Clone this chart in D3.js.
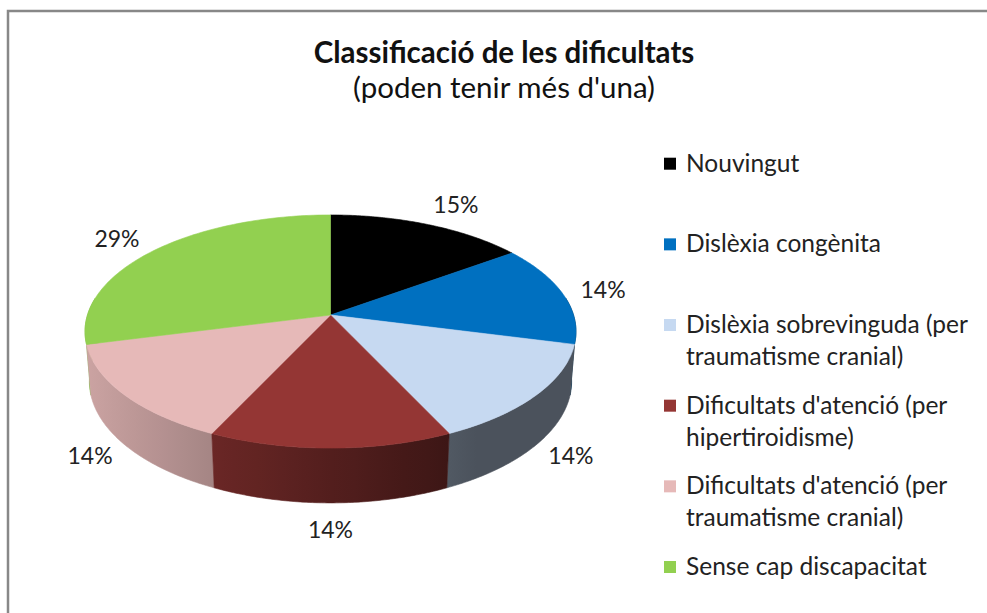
<!DOCTYPE html>
<html>
<head>
<meta charset="utf-8">
<script src="https://cdn.jsdelivr.net/npm/d3@7"></script>
<style>
  html, body { margin: 0; padding: 0; background: #fff; }
  svg { display: block; font-family: Lato, "Open Sans", "DejaVu Sans", sans-serif; }
</style>
</head>
<body>
<svg id="chart" width="987" height="613"></svg>
<script>
// ---- data ----
const categories = [
  "Nouvingut",
  "Dislèxia congènita",
  "Dislèxia sobrevinguda (per traumatisme cranial)",
  "Dificultats d'atenció (per hipertiroidisme)",
  "Dificultats d'atenció (per traumatisme cranial)",
  "Sense cap discapacitat"
];
const values = [15, 14, 14, 14, 14, 29];
const valueLabels = ["15%", "14%", "14%", "14%", "14%", "29%"];
const colors = ["#000000", "#0070C0", "#C6D9F1", "#943634", "#E6B9B8", "#92D050"];
const titleText = "Classificació de les dificultats";
const subtitleText = "(poden tenir més d'una)";

// ---- setup ----
const svg = d3.select("#chart");
const textColor = "#222222";
const defs = svg.append("defs");

// frame border (left and top visible)
svg.append("path")
  .attr("d", "M8,640 V11 H1010")
  .attr("fill", "none")
  .attr("stroke", "#888888")
  .attr("stroke-width", 2.5);

// title
svg.append("text")
  .attr("x", 504).attr("y", 63)
  .attr("text-anchor", "middle")
  .attr("font-size", 29.5).attr("font-weight", "bold")
  .attr("fill", "#111")
  .text(titleText);
svg.append("text")
  .attr("x", 504).attr("y", 98)
  .attr("text-anchor", "middle")
  .attr("font-size", 29.5)
  .attr("fill", "#111")
  .text(subtitleText);

// ---- 3D projection of the pie ----
const cam = {
  cx: 330.5, cy: 315,      // screen position of the pie apex
  f: 1514, D: 6.23,        // focal length and camera distance (in radius units)
  sinP: 0.47, cosP: 0.8826,// elevation
  h: 0.235                 // thickness
};
function proj(r, theta, Y) {
  const X = r * Math.sin(theta), Z = r * Math.cos(theta);
  const up = Y * cam.cosP + Z * cam.sinP;
  const fwd = cam.D + Z * cam.cosP - Y * cam.sinP;
  return [cam.cx + cam.f * X / fwd, cam.cy - cam.f * up / fwd];
}

const pie = d3.pie().sort(null).value(d => d.value);
const data = categories.map((c, i) => ({ name: c, value: values[i], label: valueLabels[i], color: colors[i] }));
const arcs = pie(data);

const line = d3.line();
const pieG = svg.append("g");

// lighting of the side wall as a function of the wall normal's x component
function shade(nx) {
  return Math.max(0.38, Math.min(0.9, 0.564 - 0.317 * nx));
}
const xL = proj(1, 3 * Math.PI / 2, 0)[0], xR = proj(1, Math.PI / 2, 0)[0];
arcs.forEach((a, i) => {
  const grad = defs.append("linearGradient")
    .attr("id", "side" + i)
    .attr("gradientUnits", "userSpaceOnUse")
    .attr("x1", xL).attr("x2", xR).attr("y1", 0).attr("y2", 0);
  const c = d3.rgb(a.data.color);
  d3.range(0, 1.0001, 0.05).forEach(o => {
    const nx = o * 2 - 1;
    const s = shade(nx);
    grad.append("stop").attr("offset", o)
      .attr("stop-color", d3.rgb(c.r * s, c.g * s, c.b * s).formatHex());
  });
});

// side walls (front half only), far to near
const lo = Math.PI / 2 - 0.15, hi = 3 * Math.PI / 2 + 0.15;
const walls = arcs.map((a, i) => {
  const t0 = Math.max(a.startAngle, lo), t1 = Math.min(a.endAngle, hi);
  return { i, t0, t1, z: Math.cos((t0 + t1) / 2) };
}).filter(w => w.t1 > w.t0).sort((a, b) => b.z - a.z);

pieG.selectAll("path.side").data(walls).enter().append("path")
  .attr("class", "side")
  .attr("d", w => {
    const n = 80, top = [], bot = [];
    for (let k = 0; k <= n; k++) {
      const t = w.t0 + (w.t1 - w.t0) * k / n;
      top.push(proj(1, t, 0));
      bot.push(proj(1, t, -cam.h));
    }
    return line(top.concat(bot.reverse())) + "Z";
  })
  .attr("fill", w => "url(#side" + w.i + ")")
  .attr("stroke", w => "url(#side" + w.i + ")")
  .attr("stroke-width", 0.6)
  .attr("stroke-linejoin", "round");

// top faces
pieG.selectAll("path.top").data(arcs).enter().append("path")
  .attr("class", "top")
  .attr("d", a => {
    const pts = [proj(0, 0, 0)];
    const n = 90;
    for (let k = 0; k <= n; k++) {
      const t = a.startAngle + (a.endAngle - a.startAngle) * k / n;
      pts.push(proj(1, t, 0));
    }
    return line(pts) + "Z";
  })
  .attr("fill", a => a.data.color)
  .attr("stroke", a => a.data.color)
  .attr("stroke-width", 0.6)
  .attr("stroke-linejoin", "round");

// ---- data labels ----
const ellCyTop = (proj(1, 0, 0)[1] + proj(1, Math.PI, 0)[1]) / 2;
const ellCyBot = (proj(1, 0, -cam.h)[1] + proj(1, Math.PI, -cam.h)[1]) / 2;
const lblG = svg.append("g");
arcs.forEach(a => {
  const tm = (a.startAngle + a.endAngle) / 2;
  const far = Math.cos(tm) >= 0;
  const Y = far ? 0 : -cam.h;
  const p = proj(1, tm, Y);
  let ux = p[0] - cam.cx, uy = p[1] - (far ? ellCyTop : ellCyBot);
  const L = Math.hypot(ux, uy); ux /= L; uy /= L;
  const t = lblG.append("text")
    .attr("font-size", 23)
    .attr("fill", textColor)
    .attr("text-anchor", "middle")
    .text(a.data.label);
  const hw = t.node().getComputedTextLength() / 2, hh = 9, g = 18;
  const x = p[0] + ux * (g + hw), y = p[1] + uy * (g + hh);
  t.attr("x", x).attr("y", y + 8);
});

// ---- legend ----
const legY = d3.scalePoint().domain(categories).range([171.7, 575]);
const legG = svg.append("g");
const maxW = 292;
categories.forEach((c, i) => {
  const y0 = legY(c);
  legG.append("rect")
    .attr("x", 664).attr("y", y0 - 14).attr("width", 12).attr("height", 12)
    .attr("fill", colors[i]);
  const t = legG.append("text")
    .attr("x", 686).attr("y", y0)
    .attr("font-size", 24.5)
    .attr("fill", textColor);
  const words = c.split(" ");
  let lineWords = [], lineNo = 0;
  let ts = t.append("tspan").attr("x", 686).attr("y", y0);
  words.forEach(w => {
    lineWords.push(w);
    ts.text(lineWords.join(" "));
    if (ts.node().getComputedTextLength() > maxW && lineWords.length > 1) {
      lineWords.pop();
      ts.text(lineWords.join(" "));
      lineWords = [w];
      lineNo++;
      ts = t.append("tspan").attr("x", 686).attr("y", y0 + lineNo * 32).text(w);
    }
  });
});
</script>
</body>
</html>
